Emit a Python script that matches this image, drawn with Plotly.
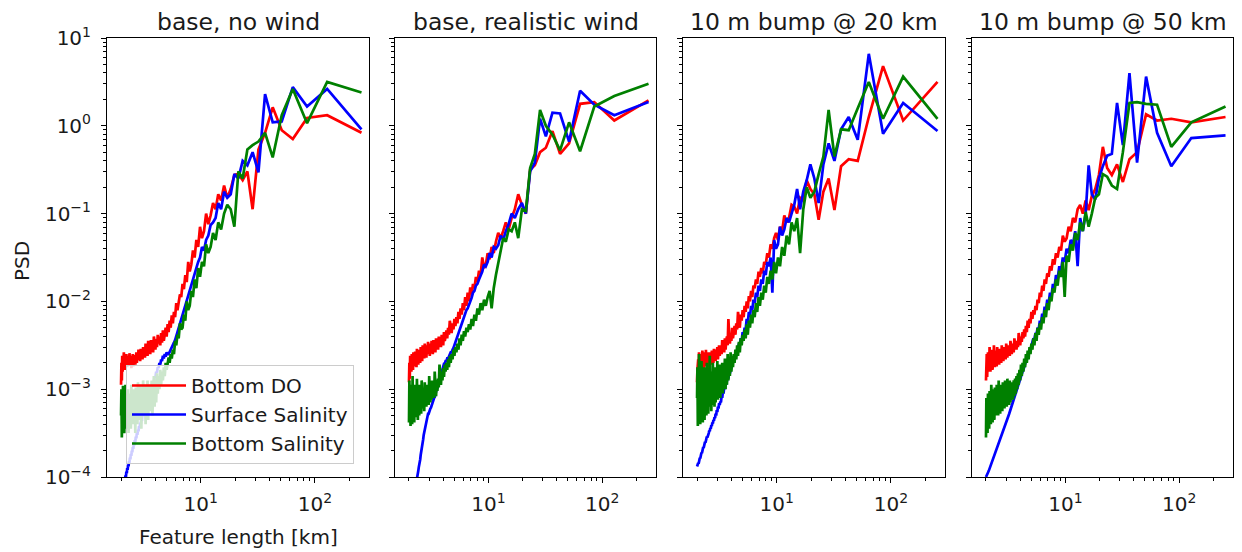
import plotly.graph_objects as go

# ---------------- data ----------------
domain_km = 256
wavenumber = list(range(1, 129))
feature_length_km = [domain_km / k for k in wavenumber]   # 256 km ... 2 km

panel_titles = ["base, no wind", "base, realistic wind",
                "10 m bump @ 20 km", "10 m bump @ 50 km"]
series_names = ["Bottom DO", "Surface Salinity", "Bottom Salinity"]
series_colors = ["#ff0000", "#0000ff", "#008000"]

# values below are log10(PSD), ordered by wavenumber 1..128

no_wind_bottom_do = [
    -0.08, 0.12, 0.09, -0.15, -0.05, 0.21, -0.08, -0.27, -0.95, -0.52,
    -0.62, -0.55, -0.56, -0.72, -0.82, -0.68, -0.85, -0.78, -0.95, -0.88,
    -1.02, -1.12, -1.0, -1.2, -1.28, -1.15, -1.38, -1.3, -1.5, -1.42,
    -1.58, -1.66, -1.55, -1.78, -1.7, -1.86, -1.8, -1.95, -1.92, -2.0,
    -2.1, -2.02, -2.18, -2.12, -2.25, -2.16, -2.3, -2.22, -2.35, -2.26,
    -2.4, -2.3, -2.38, -2.45, -2.33, -2.47, -2.36, -2.5, -2.4, -2.48,
    -2.38, -2.52, -2.43, -2.55, -2.46, -2.4, -2.58, -2.47, -2.53, -2.44,
    -2.6, -2.5, -2.57, -2.45, -2.62, -2.53, -2.58, -2.48, -2.64, -2.55,
    -2.6, -2.52, -2.66, -2.57, -2.62, -2.54, -2.68, -2.58, -2.63, -2.55,
    -2.67, -2.6, -2.7, -2.58, -2.66, -2.72, -2.61, -2.69, -2.63, -2.74,
    -2.6, -2.7, -2.65, -2.76, -2.62, -2.71, -2.66, -2.59, -2.73, -2.64,
    -2.7, -2.62, -2.75, -2.67, -2.6, -2.72, -2.65, -2.78, -2.63, -2.7,
    -2.58, -2.72, -2.66, -2.8, -2.62, -2.9, -2.7, -2.95]
no_wind_surface_sal = [
    -0.04, 0.42, 0.22, 0.44, 0.05, 0.04, 0.36, -0.53, -0.3, -0.45,
    -0.4, -0.6, -0.55, -0.78, -0.82, -0.75, -0.95, -0.88, -1.05, -1.1,
    -1.13, -1.25, -1.3, -1.42, -1.38, -1.5, -1.55, -1.62, -1.7, -1.75,
    -1.8, -1.88, -1.92, -2.0, -2.06, -2.1, -2.15, -2.2, -2.25, -2.3,
    -2.36, -2.4, -2.44, -2.47, -2.5, -2.52, -2.55, -2.57, -2.6, -2.6,
    -2.58, -2.63, -2.6, -2.65, -2.62, -2.68, -2.66, -2.72, -2.7, -2.76,
    -2.75, -2.81, -2.8, -2.87, -2.86, -2.92, -2.91, -2.97, -2.96, -3.02,
    -3.01, -3.07, -3.06, -3.12, -3.1, -3.17, -3.15, -3.22, -3.2, -3.27,
    -3.25, -3.31, -3.29, -3.36, -3.34, -3.4, -3.38, -3.44, -3.42, -3.48,
    -3.46, -3.52, -3.5, -3.56, -3.54, -3.6, -3.58, -3.64, -3.62, -3.68,
    -3.66, -3.72, -3.7, -3.76, -3.74, -3.8, -3.78, -3.84, -3.82, -3.88,
    -3.86, -3.92, -3.9, -3.96, -3.94, -4.0, -3.98, -4.04, -4.02, -4.08,
    -4.06, -4.11, -4.09, -4.14, -4.12, -4.17, -4.15, -4.2]
no_wind_bottom_sal = [
    0.38, 0.50, 0.03, 0.42, 0.12, -0.36, -0.08, -0.18, -0.22, -0.27,
    -0.6, -0.52, -1.15, -0.95, -0.9, -1.0, -1.18, -1.1, -1.3, -1.22,
    -1.38, -1.45, -1.35, -1.6, -1.55, -1.72, -1.62, -1.85, -1.75, -1.95,
    -1.88, -2.05, -2.1, -2.0, -2.22, -2.15, -2.3, -2.32, -2.25, -2.42,
    -2.38, -2.5, -2.45, -2.6, -2.55, -2.65, -2.6, -2.7, -2.64, -2.72,
    -2.78, -2.7, -2.85, -2.75, -2.9, -2.8, -2.95, -2.78, -3.0, -2.85,
    -3.05, -2.82, -3.15, -2.9, -3.2, -2.85, -3.1, -3.3, -2.9, -3.15,
    -2.95, -3.25, -3.0, -3.35, -2.9, -3.2, -3.05, -3.4, -2.95, -3.25,
    -3.1, -2.9, -3.3, -3.0, -3.45, -3.1, -2.95, -3.35, -3.05, -3.25,
    -2.92, -3.4, -3.1, -3.2, -2.98, -3.5, -3.15, -3.0, -3.3, -3.1,
    -3.4, -3.0, -3.25, -2.95, -3.45, -3.15, -3.05, -3.35, -3.1, -3.5,
    -3.0, -3.3, -3.15, -3.45, -3.05, -3.25, -2.95, -3.4, -3.2, -3.5,
    -3.1, -3.3, -2.96, -3.45, -3.2, -3.55, -3.0, -3.3]

wind_bottom_do = [
    0.29, 0.06, 0.27, 0.25, -0.2, -0.32, -0.06, -0.25, -0.3, -0.45,
    -0.5, -1.0, -0.9, -0.78, -0.95, -1.05, -1.18, -1.1, -1.2, -1.28,
    -1.22, -1.32, -1.45, -1.38, -1.52, -1.45, -1.58, -1.62, -1.5, -1.7,
    -1.65, -1.78, -1.72, -1.85, -1.8, -1.92, -1.84, -2.0, -1.9, -2.05,
    -1.95, -2.1, -2.02, -2.15, -2.08, -2.2, -2.12, -2.25, -2.18, -2.28,
    -2.2, -2.32, -2.25, -2.36, -2.28, -2.22, -2.38, -2.3, -2.42, -2.33,
    -2.4, -2.45, -2.35, -2.5, -2.42, -2.38, -2.52, -2.44, -2.48, -2.4,
    -2.55, -2.45, -2.5, -2.42, -2.58, -2.47, -2.53, -2.44, -2.6, -2.5,
    -2.45, -2.58, -2.5, -2.62, -2.48, -2.55, -2.46, -2.6, -2.52, -2.64,
    -2.5, -2.57, -2.48, -2.65, -2.55, -2.6, -2.5, -2.68, -2.56, -2.62,
    -2.52, -2.7, -2.58, -2.63, -2.55, -2.72, -2.6, -2.66, -2.54, -2.75,
    -2.6, -2.68, -2.57, -2.74, -2.62, -2.7, -2.58, -2.78, -2.64, -2.7,
    -2.6, -2.8, -2.66, -2.72, -2.62, -2.88, -2.7, -2.92]
wind_surface_sal = [
    0.27, 0.12, 0.24, 0.40, -0.18, 0.14, 0.15, -0.12, 0.08, -0.42,
    -0.52, -1.0, -0.88, -0.95, -1.05, -1.0, -1.12, -1.2, -1.3, -1.25,
    -1.36, -1.4, -1.38, -1.5, -1.45, -1.55, -1.6, -1.58, -1.66, -1.7,
    -1.75, -1.8, -1.82, -1.88, -1.9, -1.96, -2.0, -2.05, -2.08, -2.1,
    -2.14, -2.18, -2.22, -2.26, -2.3, -2.34, -2.38, -2.42, -2.44, -2.48,
    -2.5, -2.53, -2.55, -2.58, -2.58, -2.61, -2.62, -2.65, -2.65, -2.68,
    -2.68, -2.71, -2.71, -2.75, -2.76, -2.81, -2.83, -2.87, -2.9, -2.94,
    -2.96, -2.99, -3.0, -3.04, -3.05, -3.09, -3.1, -3.13, -3.15, -3.18,
    -3.19, -3.21, -3.22, -3.25, -3.25, -3.28, -3.28, -3.31, -3.32, -3.36,
    -3.38, -3.42, -3.44, -3.49, -3.52, -3.57, -3.6, -3.65, -3.68, -3.73,
    -3.75, -3.8, -3.82, -3.87, -3.89, -3.93, -3.95, -3.99, -4.02, -4.07,
    -4.1, -4.14, -4.17, -4.21, -4.23, -4.27, -4.3, -4.34, -4.36, -4.41,
    -4.43, -4.47, -4.5, -4.54, -4.56, -4.61, -4.63, -4.67]
wind_bottom_sal = [
    0.48, 0.34, 0.22, -0.29, 0.04, -0.28, -0.1, 0.0, 0.18, -0.32,
    -0.48, -0.97, -0.95, -1.28, -1.1, -1.2, -1.18, -1.32, -1.28, -1.42,
    -1.55, -1.7, -1.85, -2.08, -1.88, -1.95, -2.05, -1.98, -2.1, -2.02,
    -2.15, -2.08, -2.22, -2.15, -2.28, -2.2, -2.32, -2.26, -2.35, -2.3,
    -2.4, -2.34, -2.45, -2.38, -2.5, -2.42, -2.55, -2.48, -2.58, -2.52,
    -2.62, -2.55, -2.66, -2.6, -2.7, -2.62, -2.75, -2.66, -2.78, -2.7,
    -2.8, -2.72, -2.86, -2.76, -2.9, -2.8, -2.95, -2.85, -2.72, -2.98,
    -2.88, -3.02, -2.9, -3.08, -2.95, -2.8, -3.1, -2.97, -3.05, -2.9,
    -3.12, -2.98, -3.15, -3.0, -2.85, -3.18, -3.05, -3.1, -2.95, -3.2,
    -3.05, -3.15, -2.92, -3.25, -3.08, -3.0, -3.22, -3.1, -2.9, -3.28,
    -3.05, -3.18, -2.95, -3.3, -3.1, -3.0, -3.35, -3.12, -2.88, -3.25,
    -3.05, -3.32, -3.1, -2.95, -3.38, -3.15, -3.0, -3.3, -2.85, -3.4,
    -3.1, -3.2, -2.95, -3.42, -3.05, -3.3, -2.9, -3.38]

bump20_bottom_do = [
    0.5, 0.06, 0.68, 0.1, -0.4, -0.38, -0.46, -0.96, -0.6, -0.75,
    -1.07, -0.78, -0.72, -0.62, -0.85, -0.82, -1.0, -0.92, -0.9, -1.05,
    -1.1, -1.02, -1.2, -1.15, -1.3, -1.22, -1.28, -1.4, -1.35, -1.5,
    -1.45, -1.58, -1.55, -1.68, -1.62, -1.72, -1.66, -1.8, -1.75, -1.85,
    -1.82, -1.95, -1.88, -2.0, -1.94, -2.08, -2.0, -2.12, -2.05, -2.18,
    -2.1, -2.22, -2.15, -2.3, -2.2, -2.12, -2.32, -2.25, -2.38, -2.28,
    -2.35, -2.42, -2.3, -2.45, -2.38, -2.48, -2.36, -2.2, -2.5, -2.4,
    -2.45, -2.55, -2.42, -2.58, -2.48, -2.52, -2.44, -2.6, -2.5, -2.56,
    -2.62, -2.5, -2.58, -2.66, -2.52, -2.6, -2.55, -2.68, -2.58, -2.62,
    -2.54, -2.7, -2.6, -2.66, -2.56, -2.72, -2.62, -2.58, -2.75, -2.64,
    -2.58, -2.7, -2.62, -2.78, -2.6, -2.68, -2.55, -2.74, -2.64, -2.7,
    -2.58, -2.76, -2.62, -2.7, -2.56, -2.8, -2.65, -2.72, -2.6, -2.78,
    -2.62, -2.75, -2.58, -2.85, -2.66, -2.72, -2.78, -2.92]
bump20_surface_sal = [
    -0.06, 0.26, -0.09, 0.82, -0.16, 0.1, -0.04, -0.4, -0.2, -0.44,
    -0.88, -0.6, -0.44, -0.62, -0.75, -0.95, -0.72, -0.9, -1.0, -1.1,
    -1.05, -1.18, -1.25, -1.15, -1.35, -1.4, -1.3, -1.9, -1.5, -1.6,
    -1.55, -1.7, -1.65, -1.8, -1.75, -1.88, -1.82, -1.95, -1.9, -2.02,
    -1.98, -2.1, -2.05, -2.18, -2.12, -2.25, -2.2, -2.32, -2.3, -2.38,
    -2.35, -2.45, -2.42, -2.5, -2.48, -2.56, -2.55, -2.62, -2.6, -2.66,
    -2.65, -2.7, -2.72, -2.76, -2.78, -2.82, -2.8, -2.88, -2.86, -2.92,
    -2.95, -2.92, -3.0, -2.98, -3.05, -3.03, -3.1, -3.08, -3.15, -3.14,
    -3.18, -3.16, -3.22, -3.2, -3.26, -3.24, -3.3, -3.28, -3.33, -3.32,
    -3.36, -3.35, -3.39, -3.38, -3.42, -3.41, -3.45, -3.44, -3.48, -3.47,
    -3.5, -3.52, -3.51, -3.55, -3.54, -3.58, -3.57, -3.61, -3.6, -3.64,
    -3.63, -3.67, -3.66, -3.7, -3.69, -3.73, -3.72, -3.76, -3.75, -3.79,
    -3.78, -3.82, -3.81, -3.85, -3.84, -3.87, -3.85, -3.88]
bump20_bottom_sal = [
    0.08, 0.56, 0.08, 0.5, 0.2, -0.05, -0.04, -0.35, 0.18, -0.35,
    -0.55, -0.75, -0.82, -0.7, -0.95, -1.45, -1.05, -1.2, -1.1, -1.35,
    -1.25, -1.48, -1.38, -1.6, -1.5, -1.68, -1.55, -1.75, -1.65, -1.8,
    -1.72, -1.9, -1.82, -1.98, -1.9, -2.05, -1.95, -2.12, -2.02, -2.18,
    -2.1, -2.25, -2.15, -2.3, -2.22, -2.38, -2.26, -2.42, -2.32, -2.45,
    -2.38, -2.5, -2.42, -2.58, -2.46, -2.62, -2.5, -2.66, -2.55, -2.7,
    -2.6, -2.75, -2.62, -2.8, -2.58, -2.85, -2.68, -2.9, -2.6, -2.95,
    -2.7, -3.0, -2.65, -2.92, -2.75, -3.05, -2.7, -2.98, -2.8, -3.1,
    -2.72, -3.02, -2.85, -3.12, -2.68, -3.05, -2.9, -3.15, -2.75, -3.2,
    -2.82, -3.1, -2.7, -3.18, -2.95, -3.25, -2.8, -3.08, -2.62, -3.2,
    -2.9, -3.28, -2.78, -3.12, -2.7, -3.3, -2.95, -3.15, -2.85, -3.35,
    -2.75, -3.2, -2.92, -3.38, -2.8, -3.1, -2.68, -3.3, -2.95, -3.4,
    -2.78, -3.25, -2.6, -3.35, -2.9, -3.42, -2.75, -3.1]

bump50_bottom_do = [
    0.1, 0.04, 0.08, 0.06, 0.13, -0.3, -0.38, -0.64, -0.44, -0.56,
    -0.48, -0.24, -0.56, -0.72, -0.8, -0.96, -0.85, -1.0, -0.9, -0.95,
    -1.1, -1.05, -1.2, -1.15, -1.28, -1.32, -1.25, -1.42, -1.38, -1.5,
    -1.45, -1.58, -1.52, -1.65, -1.6, -1.72, -1.68, -1.8, -1.75, -1.88,
    -1.82, -1.95, -1.9, -2.02, -1.98, -2.1, -2.05, -2.15, -2.1, -2.2,
    -2.12, -2.25, -2.2, -2.3, -2.22, -2.35, -2.28, -2.4, -2.32, -2.42,
    -2.35, -2.46, -2.4, -2.5, -2.42, -2.36, -2.52, -2.45, -2.55, -2.47,
    -2.5, -2.42, -2.58, -2.48, -2.55, -2.6, -2.5, -2.45, -2.62, -2.54,
    -2.58, -2.5, -2.64, -2.55, -2.48, -2.66, -2.57, -2.62, -2.52, -2.68,
    -2.56, -2.6, -2.5, -2.7, -2.58, -2.64, -2.54, -2.72, -2.6, -2.55,
    -2.66, -2.52, -2.74, -2.6, -2.68, -2.56, -2.75, -2.62, -2.5, -2.7,
    -2.6, -2.78, -2.64, -2.55, -2.72, -2.62, -2.8, -2.66, -2.52, -2.74,
    -2.62, -2.8, -2.58, -2.7, -2.86, -2.6, -2.75, -2.9]
bump50_surface_sal = [
    -0.11, -0.14, -0.46, -0.08, 0.56, -0.42, 0.6, -0.22, 0.26, -0.32,
    -0.34, -0.46, -0.6, -0.84, -0.78, -0.45, -1.0, -1.2, -1.05, -1.6,
    -1.2, -1.35, -1.3, -1.45, -1.4, -1.55, -1.5, -1.65, -1.6, -1.75,
    -1.7, -1.85, -1.8, -1.95, -1.9, -2.02, -1.98, -2.1, -2.06, -2.18,
    -2.14, -2.25, -2.22, -2.32, -2.3, -2.38, -2.36, -2.44, -2.42, -2.48,
    -2.5, -2.55, -2.56, -2.6, -2.62, -2.66, -2.68, -2.72, -2.74, -2.78,
    -2.8, -2.83, -2.86, -2.9, -2.92, -2.95, -2.98, -3.0, -3.03, -3.05,
    -3.08, -3.1, -3.12, -3.15, -3.17, -3.19, -3.22, -3.24, -3.26, -3.28,
    -3.3, -3.32, -3.33, -3.35, -3.37, -3.39, -3.41, -3.43, -3.45, -3.47,
    -3.49, -3.5, -3.52, -3.54, -3.56, -3.57, -3.59, -3.61, -3.62, -3.64,
    -3.66, -3.67, -3.69, -3.7, -3.72, -3.73, -3.75, -3.76, -3.78, -3.79,
    -3.8, -3.82, -3.83, -3.85, -3.86, -3.87, -3.88, -3.9, -3.91, -3.92,
    -3.93, -3.94, -3.95, -3.96, -3.97, -3.98, -3.99, -4.0]
bump50_bottom_sal = [
    0.22, 0.04, -0.24, 0.24, 0.25, 0.27, 0.26, -0.3, -0.72, -0.68,
    -0.58, -0.55, -0.78, -0.82, -1.0, -1.15, -0.98, -1.2, -1.1, -1.3,
    -1.22, -1.42, -1.35, -1.55, -1.48, -1.95, -1.55, -1.72, -1.65, -1.82,
    -1.75, -1.9, -1.85, -2.0, -1.95, -2.1, -2.02, -2.18, -2.1, -2.25,
    -2.18, -2.32, -2.25, -2.38, -2.3, -2.45, -2.36, -2.5, -2.42, -2.55,
    -2.48, -2.6, -2.52, -2.66, -2.56, -2.7, -2.6, -2.75, -2.65, -2.8,
    -2.7, -2.85, -2.72, -2.9, -2.78, -2.95, -2.82, -3.0, -2.85, -3.05,
    -2.88, -3.08, -2.9, -3.12, -2.92, -3.1, -2.95, -3.15, -2.9, -3.18,
    -2.98, -3.12, -2.88, -3.2, -3.0, -3.15, -2.9, -3.22, -3.02, -3.1,
    -2.92, -3.25, -3.05, -3.12, -2.95, -3.28, -3.08, -3.15, -2.9, -3.3,
    -3.05, -3.18, -2.95, -3.3, -3.1, -3.2, -2.98, -3.35, -3.1, -3.22,
    -3.0, -3.38, -3.12, -3.25, -2.95, -3.4, -3.15, -3.28, -3.02, -3.45,
    -3.12, -3.3, -3.05, -3.5, -3.2, -3.35, -3.1, -3.55]

panels = [
    [no_wind_bottom_do, no_wind_surface_sal, no_wind_bottom_sal],
    [wind_bottom_do, wind_surface_sal, wind_bottom_sal],
    [bump20_bottom_do, bump20_surface_sal, bump20_bottom_sal],
    [bump50_bottom_do, bump50_surface_sal, bump50_bottom_sal],
]

# ---------------- figure ----------------
# the page body has an 8 px margin, so the figure is drawn 8 px smaller and
# every target pixel position (in the 1242x552 window) is shifted by 8 px.
OFF = 8
W, H = 1242 - OFF, 552 - OFF


def fx(px):
    return (px - OFF) / W


def fy(py):
    return 1 - (py - OFF) / H


FONT = "DejaVu Sans"
TXT = "#1a1a1a"
FS = 20
px_left = [107, 395, 683, 972]
px_right = [369, 656, 945, 1233]
px_top, px_bottom = 38, 477

fig = go.Figure()
for p, series in enumerate(panels):
    ax = "" if p == 0 else str(p + 1)
    for s, log_vals in enumerate(series):
        fig.add_trace(go.Scatter(
            x=feature_length_km, y=[10 ** v for v in log_vals],
            mode="lines", name=series_names[s],
            line=dict(color=series_colors[s], width=2.7),
            legendgroup=series_names[s], showlegend=(p == 0),
            xaxis="x" + ax, yaxis="y" + ax, hoverinfo="skip"))

x_minor = [2, 3, 4, 5, 6, 7, 8, 9, 20, 30, 40, 50, 60, 70, 80, 90, 200, 300]
y_minor = [m * 10 ** e for e in range(-4, 1) for m in range(2, 10)]
y_major = [1e-4, 1e-3, 1e-2, 1e-1, 1, 10]
y_major_text = ["10<sup>\u22124</sup>", "10<sup>\u22123</sup>", "10<sup>\u22122</sup>",
                "10<sup>\u22121</sup>", "10<sup>0</sup>", "10<sup>1</sup>"]

layout = dict(
    width=W, height=H, autosize=False,
    margin=dict(l=0, r=0, t=0, b=0, pad=0, autoexpand=False),
    paper_bgcolor="white", plot_bgcolor="white",
    font=dict(family=FONT, size=FS, color=TXT),
    hovermode=False,
    legend=dict(x=fx(126), y=fy(365), xanchor="left", yanchor="top",
                bgcolor="rgba(255,255,255,0.8)", bordercolor="#cccccc",
                borderwidth=1, font=dict(family=FONT, size=FS, color=TXT),
                tracegroupgap=0, traceorder="grouped", itemwidth=54),
)
for p in range(4):
    ax = "" if p == 0 else str(p + 1)
    layout["xaxis" + ax] = dict(
        type="log", domain=[fx(px_left[p]), fx(px_right[p])],
        range=[0.178, 2.474], anchor="y" + ax, automargin=False,
        showline=True, mirror=True, linecolor="black", linewidth=1,
        showgrid=False, zeroline=False,
        ticks="outside", ticklen=5, tickwidth=1, tickcolor="black",
        tickmode="array", tickvals=[10, 100],
        ticktext=["10<sup>1</sup>", "10<sup>2</sup>"],
        ticklabelstandoff=4,
        tickfont=dict(family=FONT, size=FS, color=TXT),
        minor=dict(ticks="outside", ticklen=3, tickwidth=1, tickcolor="black",
                   tickmode="array", tickvals=x_minor, showgrid=False),
    )
    layout["yaxis" + ax] = dict(
        type="log", domain=[fy(px_bottom), fy(px_top)],
        range=[-4, 1], anchor="x" + ax, automargin=False,
        showline=True, mirror=True, linecolor="black", linewidth=1,
        showgrid=False, zeroline=False,
        ticks="outside", ticklen=5, tickwidth=1, tickcolor="black",
        tickmode="array", tickvals=y_major, ticktext=y_major_text,
        showticklabels=(p == 0), ticklabelstandoff=6,
        tickfont=dict(family=FONT, size=FS, color=TXT),
        minor=dict(ticks="outside", ticklen=3, tickwidth=1, tickcolor="black",
                   tickmode="array", tickvals=y_minor, showgrid=False),
    )
fig.update_layout(**layout)

annotations = []
for p in range(4):
    annotations.append(dict(
        text=panel_titles[p], x=fx((px_left[p] + px_right[p]) / 2), y=fy(22.5),
        xref="paper", yref="paper", xanchor="center", yanchor="middle",
        showarrow=False, font=dict(family=FONT, size=23.5, color=TXT)))
annotations.append(dict(
    text="Feature length [km]", x=fx(238), y=fy(537), xref="paper", yref="paper",
    xanchor="center", yanchor="middle", showarrow=False,
    font=dict(family=FONT, size=FS, color=TXT)))
annotations.append(dict(
    text="PSD", x=fx(22), y=fy(261), xref="paper", yref="paper",
    xanchor="center", yanchor="middle", textangle=-90, showarrow=False,
    font=dict(family=FONT, size=FS, color=TXT)))
fig.update_layout(annotations=annotations)

fig.write_html("out.html")
